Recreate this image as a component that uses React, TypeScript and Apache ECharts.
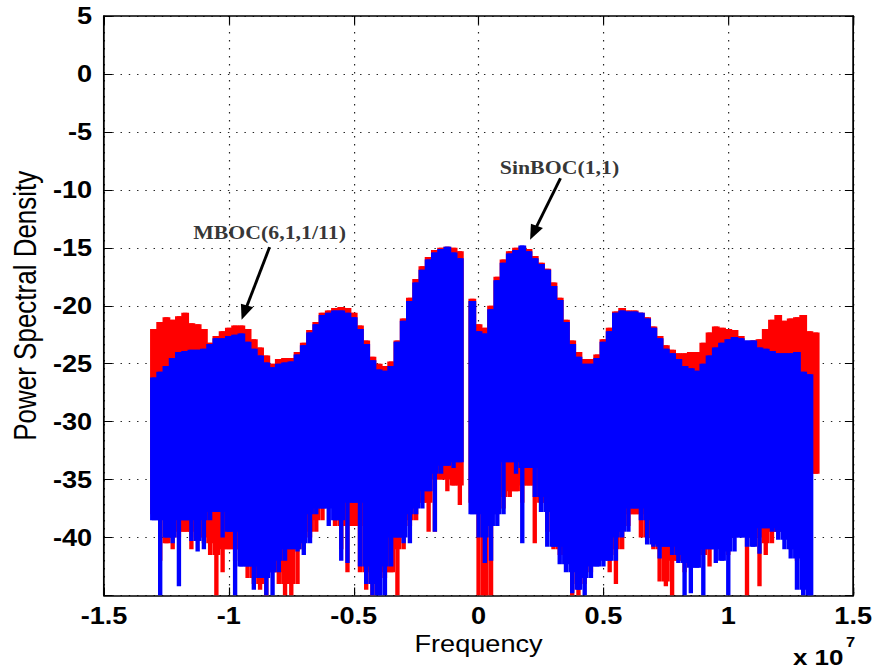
import React, { useEffect, useRef } from "react";
import * as echarts from "echarts";

// sampling grid of the frequency axis (units of 1e7 Hz)
const FREQ_START = -1.3;
const FREQ_STEP = 0.025;
const FREQ_COUNT = 107;
const frequency: number[] = Array.from({ length: FREQ_COUNT }, (_, i) =>
  Math.round((FREQ_START + i * FREQ_STEP) * 1000) / 1000
);

// MBOC(6,1,1/11) (red): upper and lower edge of the PSD trace, dB
const mbocTop: (number | null)[] = [
  -22.0, -21.4, -21.0, -21.2, -20.9, -20.6, -21.5, -21.6, -22.0, -23.2,
  -22.6, -22.2, -21.9, -21.7, -21.7, -22.0, -22.9, -23.6, -24.3, -25.0,
  -24.6, -24.5, -24.5, -24.0, -23.2, -22.1, -21.4, -20.6, -20.4, -20.2,
  -20.1, -20.2, -20.6, -21.7, -23.0, -24.4, -25.0, -25.2, -24.8, -23.0,
  -21.1, -19.3, -17.7, -16.6, -15.8, -15.2, -15.0, -14.9, -15.0, -15.3,
  null, -19.4, -21.6, -21.9, -20.0, -17.5, -16.0, -15.3, -15.0, -14.9,
  -15.1, -15.7, -16.3, -16.8, -18.0, -19.3, -21.2, -23.0, -24.0, -24.6,
  -24.6, -24.2, -22.9, -21.9, -20.5, -20.2, -20.4, -20.4, -20.6, -21.0,
  -21.8, -22.6, -23.4, -23.8, -24.1, -24.1, -24.0, -24.0, -23.2, -22.3,
  -21.8, -21.9, -22.0, -22.1, -22.6, -23.3, -23.0, -22.9, -22.0, -21.2,
  -20.8, -21.3, -21.1, -21.0, -20.8, -22.2, -22.3,
];
const mbocBottom: (number | null)[] = [
  -38.0, -42.0, -40.5, -41.0, -40.0, -39.5, -41.0, -40.0, -40.5, -41.5,
  -45.0, -43.0, -41.0, -42.0, -41.0, -43.5, -44.0, -44.5, -45.0, -43.0,
  -44.0, -45.0, -45.0, -44.0, -41.0, -40.0, -39.5, -38.5, -37.0, -39.0,
  -41.0, -43.0, -39.0, -43.0, -44.5, -45.0, -44.0, -43.5, -43.0, -45.0,
  -41.0, -39.0, -38.5, -37.0, -39.5, -39.5, -35.0, -36.0, -35.5, -37.2,
  null, -37.0, -45.0, -45.0, -45.0, -38.0, -37.5, -36.5, -36.0, -37.0,
  -35.5, -40.5, -37.0, -39.5, -41.0, -41.5, -42.0, -45.0, -45.0, -44.0,
  -43.0, -42.0, -41.5, -43.0, -44.0, -41.0, -39.0, -38.0, -40.0, -40.0,
  -41.0, -43.8, -44.2, -45.0, -42.0, -43.0, -42.0, -42.0, -41.5, -42.5,
  -41.0, -40.0, -41.5, -40.0, -39.5, -45.0, -40.0, -44.2, -41.5, -40.5,
  -39.5, -40.0, -41.0, -42.0, -41.0, -40.0, -34.5,
];

// SinBOC(1,1) (blue): upper and lower edge of the PSD trace, dB
const sinbocTop: (number | null)[] = [
  -26.2, -25.7, -25.2, -24.5, -24.0, -23.9, -23.8, -23.8, -23.7, -23.3,
  -22.8, -22.8, -22.6, -22.5, -22.4, -23.1, -23.7, -24.3, -24.9, -25.3,
  -25.0, -24.9, -24.8, -24.2, -23.4, -22.3, -21.6, -20.8, -20.6, -20.4,
  -20.4, -20.6, -21.0, -22.0, -23.3, -24.7, -25.5, -25.6, -25.2, -23.1,
  -21.3, -19.6, -18.0, -16.9, -16.0, -15.4, -15.1, -14.9, -15.4, -15.9,
  null, -19.6, -22.2, -22.4, -20.3, -17.8, -16.3, -15.5, -15.2, -14.8,
  -15.3, -15.9, -16.4, -16.9, -18.3, -19.5, -21.4, -23.3, -24.4, -25.0,
  -25.0, -24.5, -23.1, -22.2, -20.6, -20.4, -20.5, -20.5, -20.6, -21.1,
  -21.9, -22.8, -23.7, -24.1, -24.6, -25.2, -25.4, -25.6, -25.0, -24.3,
  -23.6, -23.2, -22.9, -22.7, -22.8, -23.0, -23.0, -23.6, -23.7, -23.9,
  -24.1, -24.1, -24.1, -24.0, -25.7, -25.9, null,
];
const sinbocBottom: (number | null)[] = [
  -38.5, -45.0, -40.0, -40.5, -44.2, -38.5, -40.3, -41.2, -41.0, -38.5,
  -37.8, -40.0, -39.5, -45.0, -42.5, -42.5, -44.5, -43.5, -45.0, -45.0,
  -43.0, -42.0, -41.0, -41.2, -41.5, -40.5, -38.0, -37.5, -39.0, -38.5,
  -42.0, -42.2, -37.0, -42.5, -44.0, -45.0, -45.0, -45.0, -42.5, -40.0,
  -40.5, -40.5, -38.0, -37.5, -36.0, -39.5, -34.5, -33.8, -34.0, -33.5,
  null, -38.0, -40.0, -42.2, -42.0, -39.0, -38.0, -33.5, -34.5, -40.5,
  -34.0, -36.5, -37.8, -40.8, -40.8, -42.3, -43.0, -44.8, -44.5, -45.0,
  -43.5, -42.5, -42.5, -42.0, -42.0, -40.0, -39.5, -37.5, -38.5, -40.6,
  -40.8, -41.8, -40.8, -41.5, -42.2, -45.0, -44.8, -42.6, -45.0, -41.0,
  -42.2, -42.0, -45.0, -41.2, -40.0, -40.8, -40.8, -41.4, -39.2, -39.5,
  -40.2, -41.0, -41.8, -44.5, -45.0, -45.0, null,
];

const xTickLabels = ["-1.5", "-1", "-0.5", "0", "0.5", "1", "1.5"];
const xTickValues = [-1.5, -1, -0.5, 0, 0.5, 1, 1.5];
const yTickValues = [-40, -35, -30, -25, -20, -15, -10, -5, 0, 5];

// annotation texts and arrows (data coordinates)
const annotationNames = ["SinBOC(1,1)", "MBOC(6,1,1/11)"];
const annotationTextPos = [
  [0.324, -8.04],
  [-0.837, -13.65],
];
const arrowTails = [
  [0.328, -8.99],
  [-0.837, -14.95],
];
const arrowHeads = [
  [0.22, -13.71],
  [-0.938, -20.6],
];

const STRETCH = 1.18;
const W = 742;
const H = 671;

const SANS = '"Liberation Sans", Arial, Helvetica, sans-serif';
const SERIF = '"Liberation Serif", "Times New Roman", Times, serif';

function buildData(tops: (number | null)[], bottoms: (number | null)[]) {
  return frequency.map((f, i) => [f, tops[i], bottoms[i]]);
}

// each sample: a full-width column down to the shallower of its own / neighbouring
// lower edges, then a narrower spike down to its own lower edge
function makeRenderer(color: string, bottoms: (number | null)[]) {
  return (params: any, api: any) => {
    const i = params.dataIndex;
    const x = api.value(0);
    const top = api.value(1);
    const bot = api.value(2);
    if (isNaN(top) || isNaN(bot)) return null;
    const neigh = [bottoms[i - 1], bottoms[i], bottoms[i + 1]].filter(
      (v) => v != null
    ) as number[];
    const bodyBot = Math.max(...neigh);
    const a = api.coord([x, top]);
    const m = api.coord([x, bodyBot]);
    const b = api.coord([x, bot]);
    const step = api.size([FREQ_STEP, 0])[0];
    const w = step * 1.25;
    const ws = step * 0.7;
    return {
      type: "group",
      children: [
        {
          type: "rect",
          shape: { x: a[0] - w / 2, y: a[1], width: w, height: m[1] - a[1] },
          style: { fill: color },
        },
        {
          type: "rect",
          shape: { x: a[0] - ws / 2, y: a[1], width: ws, height: b[1] - a[1] },
          style: { fill: color },
        },
      ],
    };
  };
}

export default function App() {
  const ref = useRef<HTMLDivElement>(null);

  useEffect(() => {
    if (!ref.current) return;
    const chart = echarts.init(ref.current, undefined, { renderer: "svg" });

    const axisLineStyle = { color: "#000", width: 1.5 };
    const tickLabel = {
      color: "#000",
      fontSize: 23,
      fontWeight: "bold" as const,
      fontFamily: SANS,
    };

    chart.setOption({
      animation: false,
      backgroundColor: "#fff",
      grid: { left: 83, right: 19, top: 16, bottom: 75.5, containLabel: false },
      xAxis: [
        {
          type: "value",
          min: -1.5,
          max: 1.5,
          interval: 0.5,
          position: "bottom",
          axisLine: { show: true, onZero: false, lineStyle: axisLineStyle },
          axisTick: { show: true, inside: true, length: 8, lineStyle: { color: "#000", width: 1 } },
          axisLabel: {
            ...tickLabel,
            margin: 9,
            formatter: (v: number) => {
              const i = xTickValues.findIndex((t) => Math.abs(t - v) < 1e-9);
              return i >= 0 ? xTickLabels[i] : "";
            },
          },
          splitLine: { show: true, lineStyle: { color: "#222", width: 1, type: [1.5, 6.5] } },
          name: "Frequency",
          nameLocation: "middle",
          nameGap: 36,
          nameTextStyle: { color: "#000", fontSize: 23, fontFamily: SANS },
        },
        {
          type: "value",
          min: -1.5,
          max: 1.5,
          interval: 0.5,
          position: "top",
          axisLine: { show: true, onZero: false, lineStyle: axisLineStyle },
          axisTick: { show: true, inside: true, length: 8, lineStyle: { color: "#000", width: 1 } },
          axisLabel: { show: false },
          splitLine: { show: false },
        },
      ],
      yAxis: [
        {
          type: "value",
          min: -45,
          max: 5,
          interval: 5,
          position: "left",
          axisLine: { show: true, onZero: false, lineStyle: axisLineStyle },
          axisTick: { show: true, inside: true, length: 7, lineStyle: { color: "#000", width: 1 } },
          axisLabel: {
            ...tickLabel,
            margin: 10,
            formatter: (v: number) => (yTickValues.includes(v) ? String(v) : ""),
          },
          splitLine: { show: true, lineStyle: { color: "#222", width: 1, type: [1.2, 5.8] } },
          name: "Power Spectral Density",
          nameLocation: "middle",
          nameGap: 52,
          nameTextStyle: { color: "#000", fontSize: 26, fontFamily: SANS },
        },
        {
          type: "value",
          min: -45,
          max: 5,
          interval: 5,
          position: "right",
          axisLine: { show: true, onZero: false, lineStyle: axisLineStyle },
          axisTick: { show: true, inside: true, length: 7, lineStyle: { color: "#000", width: 1 } },
          axisLabel: { show: false },
          splitLine: { show: false },
        },
      ],
      series: [
        {
          name: "MBOC(6,1,1/11)",
          type: "custom",
          xAxisIndex: 0,
          yAxisIndex: 0,
          renderItem: makeRenderer("#ff0000", mbocBottom),
          encode: { x: 0, y: [1, 2] },
          data: buildData(mbocTop, mbocBottom),
          clip: true,
          z: 2,
        },
        {
          name: "SinBOC(1,1)",
          type: "custom",
          xAxisIndex: 0,
          yAxisIndex: 0,
          renderItem: makeRenderer("#0000ff", sinbocBottom),
          encode: { x: 0, y: [1, 2] },
          data: buildData(sinbocTop, sinbocBottom),
          clip: true,
          z: 3,
        },
        {
          name: "annotations",
          type: "scatter",
          xAxisIndex: 0,
          yAxisIndex: 0,
          symbolSize: 0,
          silent: true,
          z: 10,
          data: annotationNames.map((n, i) => ({ name: n, value: annotationTextPos[i] })),
          label: {
            show: true,
            position: "inside",
            formatter: "{b}",
            color: "#000",
            fontSize: 18.5,
            fontWeight: "bold",
            fontFamily: SERIF,
          },
          markLine: {
            silent: true,
            symbol: ["none", "triangle"],
            symbolSize: [11, 15],
            lineStyle: { color: "#000", width: 2.5, type: "solid" },
            label: { show: false },
            emphasis: { disabled: true },
            data: arrowTails.map((t, i) => [{ coord: t }, { coord: arrowHeads[i] }]),
          },
        },
      ],
      graphic: [
        {
          type: "text",
          x: 672,
          y: 657,
          style: {
            text: "x 10",
            fill: "#000",
            fontSize: 22,
            fontWeight: "bold",
            fontFamily: SANS,
            verticalAlign: "middle",
          },
        },
        {
          type: "text",
          x: 717,
          y: 642,
          style: {
            text: "7",
            fill: "#000",
            fontSize: 14,
            fontWeight: "bold",
            fontFamily: SANS,
            verticalAlign: "middle",
          },
        },
      ],
    });

    return () => chart.dispose();
  }, []);

  return (
    <div
      ref={ref}
      style={{
        position: "fixed",
        left: 0,
        top: 0,
        width: W,
        height: H,
        transform: `scaleX(${STRETCH})`,
        transformOrigin: "0 0",
        background: "#fff",
      }}
    />
  );
}
